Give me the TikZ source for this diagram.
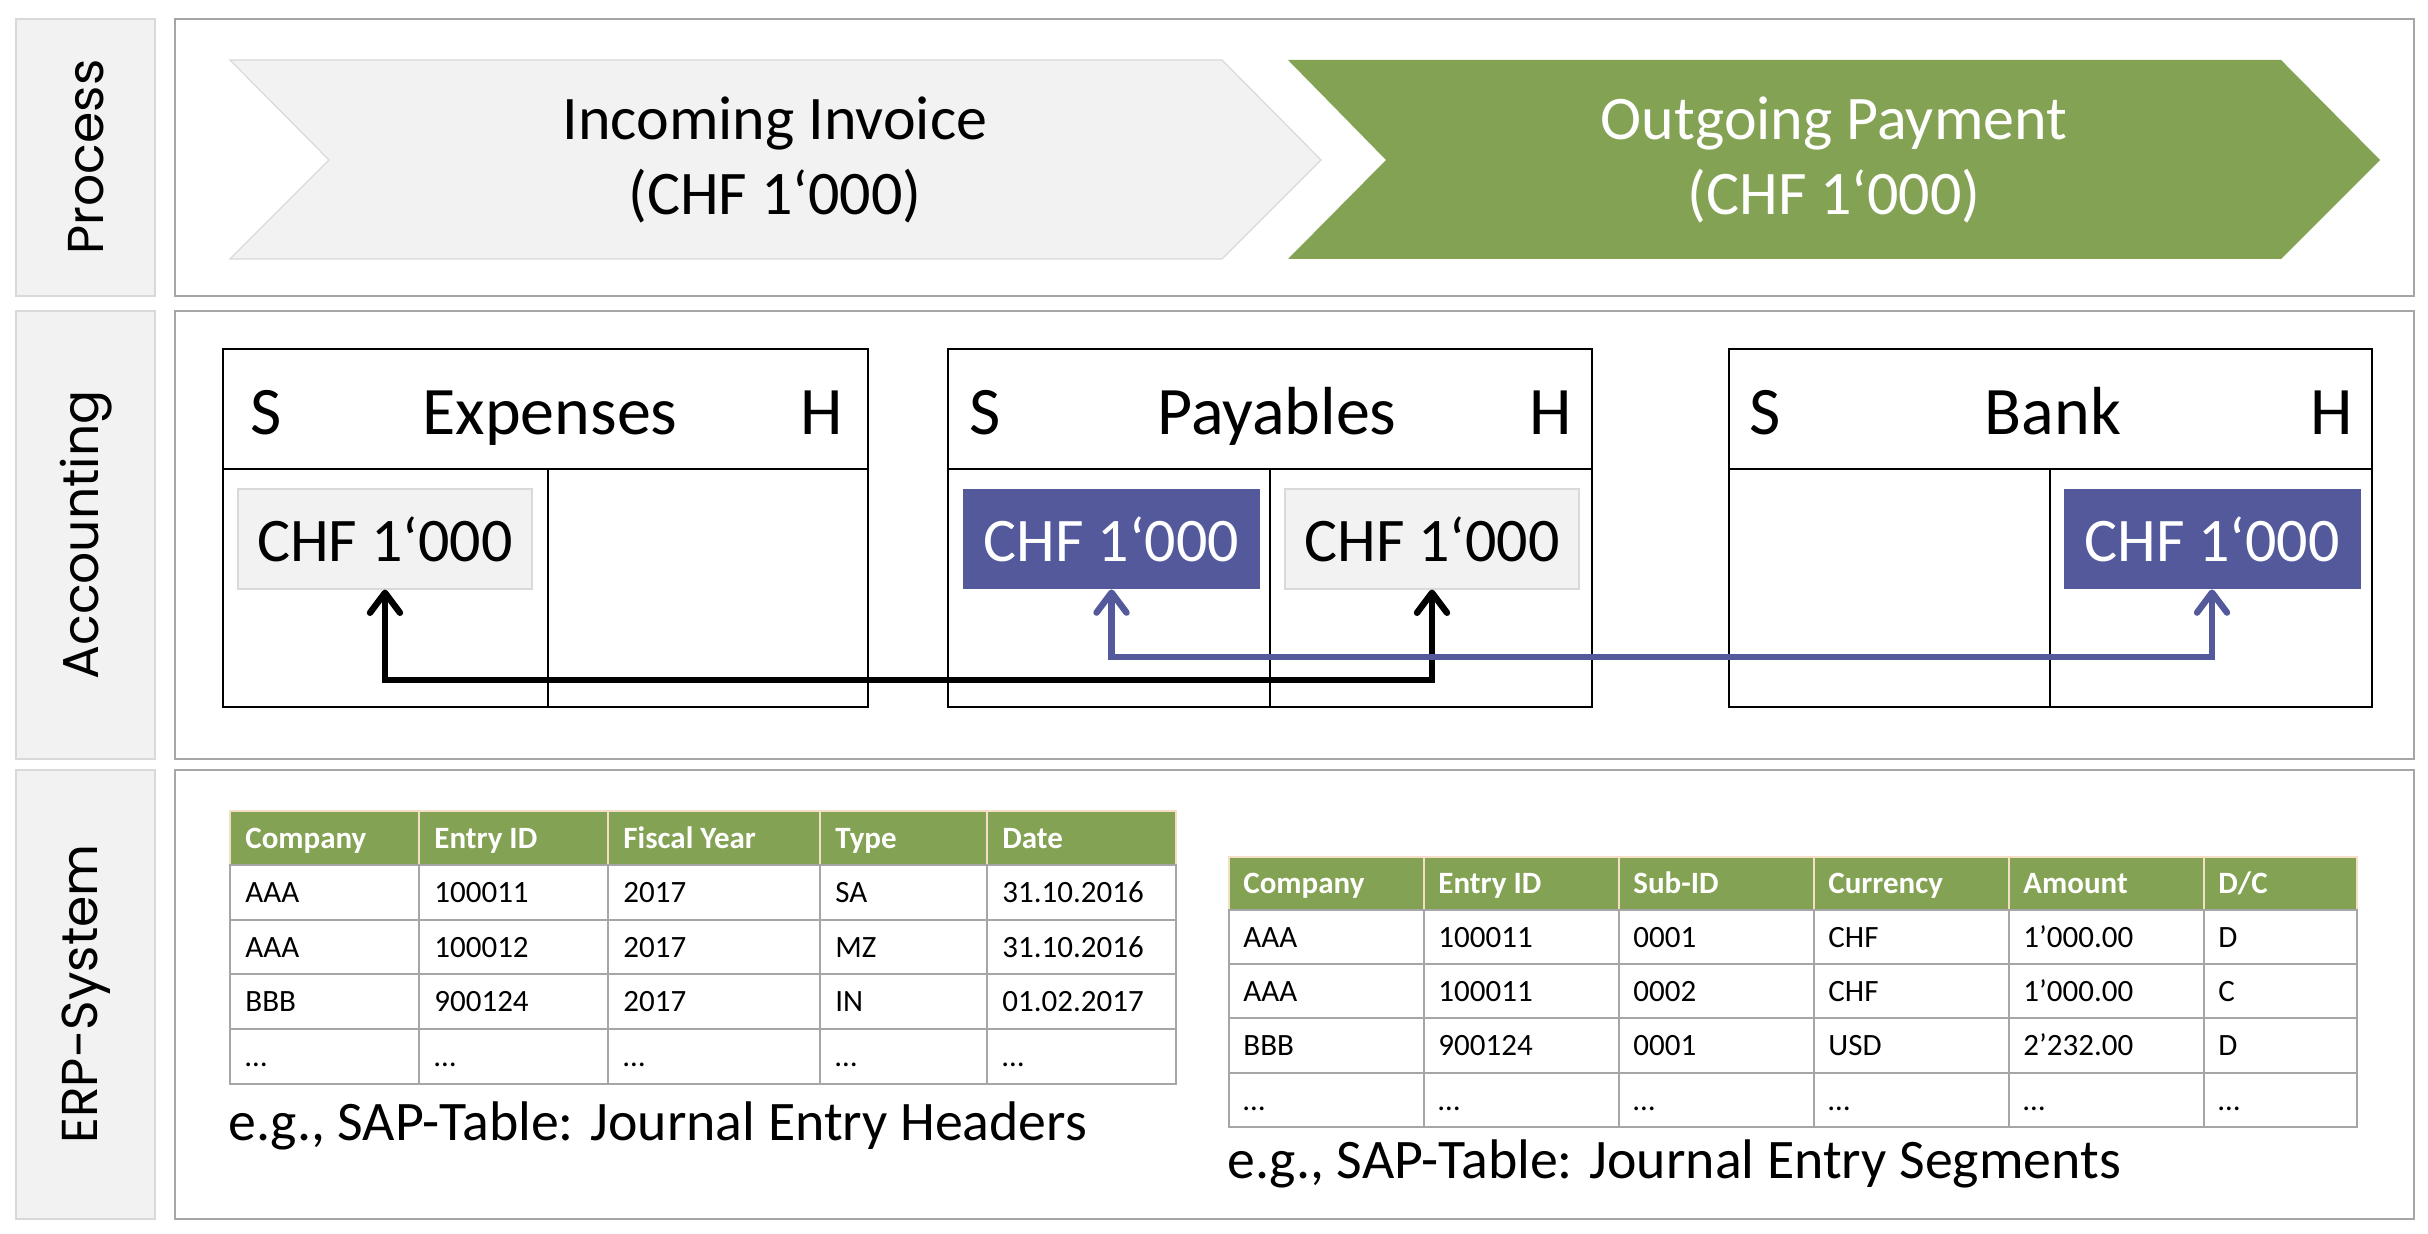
\documentclass[tikz,border=0pt]{standalone}
\usepackage{fontspec}
\setmainfont{Carlito}
\newfontfamily\labelfont{Poppins}
\usetikzlibrary{arrows.meta}
\definecolor{lgray}{HTML}{F2F2F2}
\definecolor{lborder}{HTML}{D9D9D9}
\definecolor{frame}{HTML}{A6A6A6}
\definecolor{okgreen}{HTML}{83A253}
\definecolor{blu}{HTML}{53599A}
\definecolor{gridc}{HTML}{A6A6A6}
\definecolor{hdrline}{HTML}{F4DEC6}
\begin{document}
\begin{tikzpicture}[x=0.5pt,y=-0.5pt,
  lanelabel/.style={fill=lgray, draw=lborder, line width=0.6pt},
  lanebox/.style={draw=frame, line width=0.8pt},
  lanetext/.style={font=\labelfont\fontsize{25.2}{30}\selectfont, rotate=90, text=black},
  chevtext/.style={font=\fontsize{31}{37.8}\selectfont, align=center},
  taccount/.style={draw=black, line width=1.1pt},
  thead/.style={font=\fontsize{34}{40}\selectfont, inner sep=0pt},
  chfbox/.style={minimum height=50pt, inner sep=0pt, font=\fontsize{31}{37}\selectfont},
  chfgray/.style={chfbox, fill=lgray, draw=lborder, line width=0.6pt, minimum width=147pt},
  chfblue/.style={chfbox, fill=blu, text=white, minimum width=148.5pt},
  flow/.style={line width=3.2pt, {Straight Barb[length=10pt,width=15pt,round]}-{Straight Barb[length=10pt,width=15pt,round]}},
  hdrcell/.style={fill=okgreen, draw=hdrline, line width=0.6pt},
  datacell/.style={draw=gridc, line width=0.7pt},
  hdrtext/.style={font=\bfseries\fontsize{15.5}{18}\selectfont, text=white, anchor=base west, inner sep=0pt},
  celltext/.style={font=\fontsize{15.5}{18}\selectfont, anchor=base west, inner sep=0pt},
  captext/.style={font=\fontsize{27.9}{33}\selectfont, anchor=base west, inner sep=0pt}
]
\useasboundingbox (0,0) rectangle (2428,1234);
\fill[white] (0,0) rectangle (2428,1234);

% ---------- lanes ----------
\draw[lanelabel] (16,19) rectangle (155,296);
\draw[lanebox] (175,19) rectangle (2414,296);
\draw[lanelabel] (16,311) rectangle (155,759);
\draw[lanebox] (175,311) rectangle (2414,759);
\draw[lanelabel] (16,770) rectangle (155,1219);
\draw[lanebox] (175,770) rectangle (2414,1219);
\node[lanetext] (lProcess) at (86,157) {Process};
\node[lanetext] (lAccounting) at (86,535) {Accounting};
\node[lanetext] (lERP) at (86,994) {ERP-System};

% ---------- process chevrons ----------
\draw[fill=lgray, draw=lborder, line width=0.6pt] (230,60) -- (1222,60) -- (1321,160) -- (1222,259) -- (230,259) -- (329,160) -- cycle;
\fill[okgreen] (1288,60) -- (2281,60) -- (2380,160) -- (2281,259) -- (1288,259) -- (1386,160) -- cycle;
\node[chevtext] (pInvoice) at (775,160) {Incoming Invoice\\(CHF 1‘000)};
\node[chevtext, text=white] (pPayment) at (1834,160) {Outgoing Payment\\(CHF 1‘000)};

% ---------- T-accounts ----------
% Expenses
\draw[taccount] (223,349) rectangle (868,707);
\draw[taccount] (223,469) -- (868,469);
\draw[black, line width=0.7pt] (548,469) -- (548,707);
\node[thead, anchor=base west] (eS) at (250,435) {S};
\node[thead, anchor=base] (eT) at (550,435) {Expenses};
\node[thead, anchor=base east] (eH) at (843,435) {H};
% Payables
\draw[taccount] (948,349) rectangle (1592,707);
\draw[taccount] (948,469) -- (1592,469);
\draw[black, line width=0.7pt] (1270,469) -- (1270,707);
\node[thead, anchor=base west] (pS) at (969,435) {S};
\node[thead, anchor=base] (pT) at (1277,435) {Payables};
\node[thead, anchor=base east] (pH) at (1572,435) {H};
% Bank
\draw[taccount] (1729,349) rectangle (2372,707);
\draw[taccount] (1729,469) -- (2372,469);
\draw[black, line width=0.7pt] (2050,469) -- (2050,707);
\node[thead, anchor=base west] (bS) at (1749,435) {S};
\node[thead, anchor=base] (bT) at (2053,435) {Bank};
\node[thead, anchor=base east] (bH) at (2353,435) {H};

% amounts
\node[chfgray] (expL) at (385,539) {CHF 1‘000};
\node[chfblue] (payL) at (1111.5,539) {CHF 1‘000};
\node[chfgray] (payR) at (1432,539) {CHF 1‘000};
\node[chfblue] (bankR) at (2212,539) {CHF 1‘000};

% flows
\coordinate (blkY) at (0,680);
\coordinate (bluY) at (0,657);
\draw[flow, black] (expL.south) -- (expL.south |- blkY) -| (payR.south);
\draw[flow, blu] (payL.south) -- (payL.south |- bluY) -| (bankR.south);

% ---------- Table 1: Journal Entry Headers ----------
\foreach \xa/\xb/\t [count=\i] in {230/419/Company, 419/608/Entry ID, 608/820/Fiscal Year, 820/987/Type, 987/1176/Date}{
  \draw[hdrcell] (\xa,811) rectangle (\xb,865);
  \node[hdrtext] (hA\i) at (\xa+15,848) {\t};
}
\foreach \r/\ya/\yb/\ta/\tb/\tc/\td/\te in {1/865/920/AAA/100011/2017/SA/31.10.2016, 2/920/974/AAA/100012/2017/MZ/31.10.2016, 3/974/1029/BBB/900124/2017/IN/01.02.2017, 4/1029/1084/…/…/…/…/…}{
  \draw[datacell] (230,\ya) rectangle (419,\yb) (419,\ya) rectangle (608,\yb) (608,\ya) rectangle (820,\yb) (820,\ya) rectangle (987,\yb) (987,\ya) rectangle (1176,\yb);
  \node[celltext] (A\r c1) at (245,{(\ya+\yb)/2+10}) {\ta};
  \node[celltext] (A\r c2) at (434,{(\ya+\yb)/2+10}) {\tb};
  \node[celltext] (A\r c3) at (623,{(\ya+\yb)/2+10}) {\tc};
  \node[celltext] (A\r c4) at (835,{(\ya+\yb)/2+10}) {\td};
  \node[celltext] (A\r c5) at (1002,{(\ya+\yb)/2+10}) {\te};
}
\node[captext] (capA) at (228,1140) {e.g., SAP-Table: Journal Entry Headers};

% ---------- Table 2: Journal Entry Segments ----------
\foreach \xa/\xb/\t [count=\i] in {1229/1424/Company, 1424/1619/Entry ID, 1619/1814/Sub-ID, 1814/2009/Currency, 2009/2204/Amount, 2204/2357/{D/C}}{
  \draw[hdrcell] (\xa,857) rectangle (\xb,910);
  \node[hdrtext] (hB\i) at (\xa+14,893.5) {\t};
}
\foreach \r/\ya/\yb/\ta/\tb/\tc/\td/\te/\tf in {1/910/964/AAA/100011/0001/CHF/1’000.00/D, 2/964/1018/AAA/100011/0002/CHF/1’000.00/C, 3/1018/1073/BBB/900124/0001/USD/2’232.00/D, 4/1073/1127/…/…/…/…/…/…}{
  \draw[datacell] (1229,\ya) rectangle (1424,\yb) (1424,\ya) rectangle (1619,\yb) (1619,\ya) rectangle (1814,\yb) (1814,\ya) rectangle (2009,\yb) (2009,\ya) rectangle (2204,\yb) (2204,\ya) rectangle (2357,\yb);
  \node[celltext] (B\r c1) at (1243,{(\ya+\yb)/2+10}) {\ta};
  \node[celltext] (B\r c2) at (1438,{(\ya+\yb)/2+10}) {\tb};
  \node[celltext] (B\r c3) at (1633,{(\ya+\yb)/2+10}) {\tc};
  \node[celltext] (B\r c4) at (1828,{(\ya+\yb)/2+10}) {\td};
  \node[celltext] (B\r c5) at (2023,{(\ya+\yb)/2+10}) {\te};
  \node[celltext] (B\r c6) at (2218,{(\ya+\yb)/2+10}) {\tf};
}
\node[captext] (capB) at (1227,1178) {e.g., SAP-Table: Journal Entry Segments};
\end{tikzpicture}
\end{document}
